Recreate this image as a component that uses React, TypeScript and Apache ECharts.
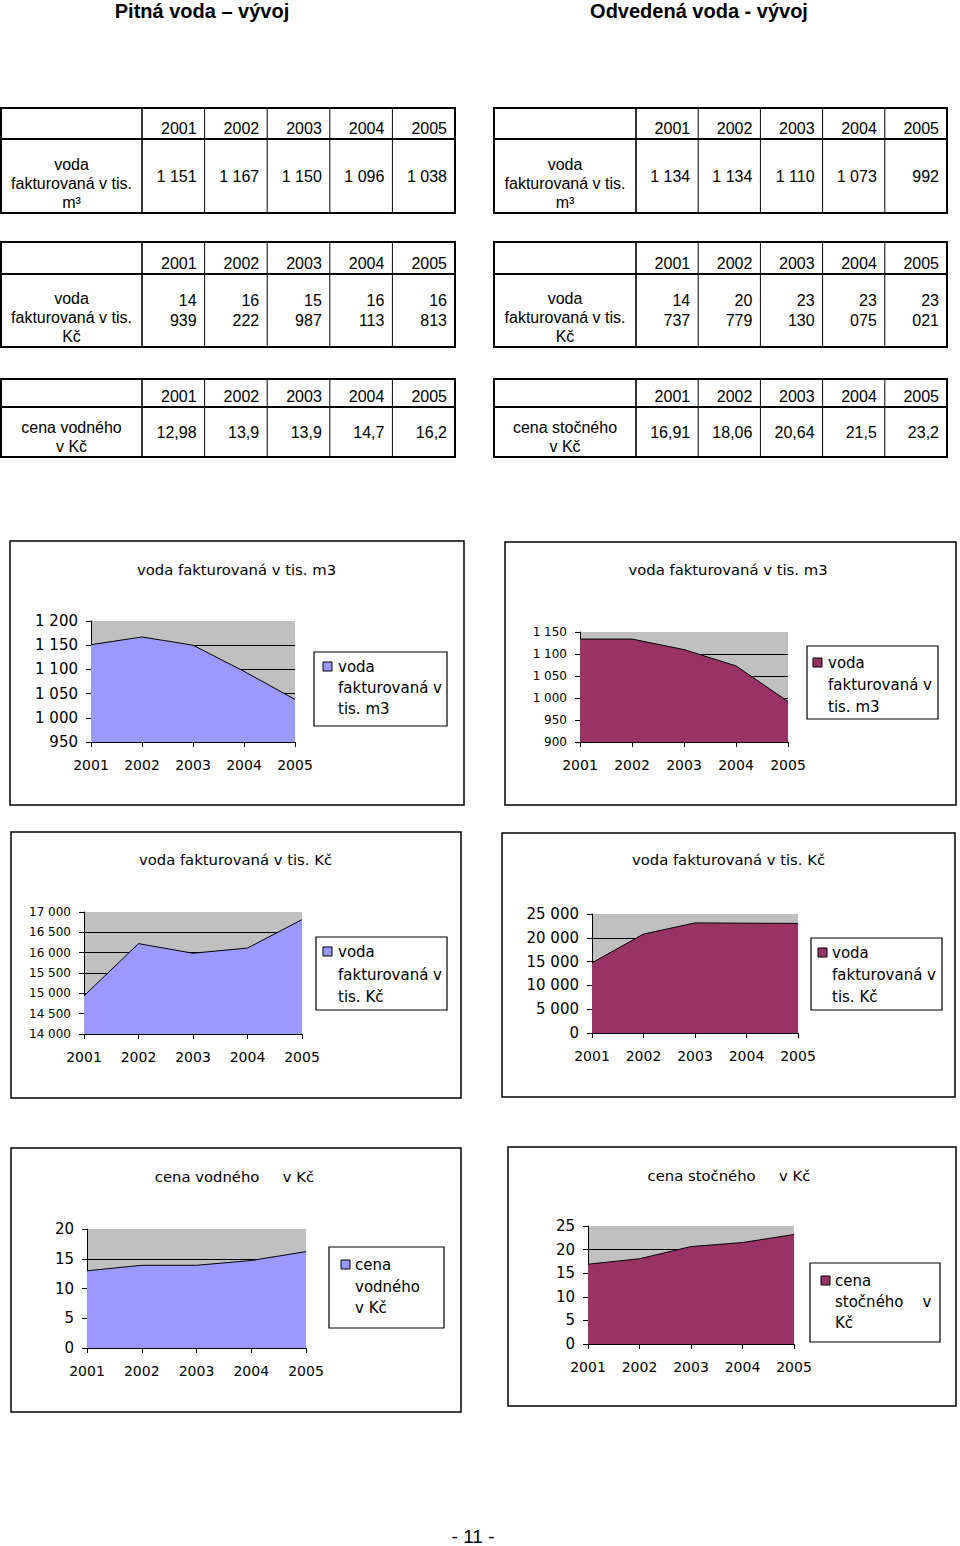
import React, { useEffect, useRef } from "react";
import * as echarts from "echarts";

// ---------- DATA ----------
const years = ["2001", "2002", "2003", "2004", "2005"];
const pitnaM3 = [1151, 1167, 1150, 1096, 1038];
const odvedenaM3 = [1134, 1134, 1110, 1073, 992];
const pitnaKc = [14939, 16222, 15987, 16113, 16813];
const odvedenaKc = [14737, 20779, 23130, 23075, 23021];
const cenaVodneho = [12.98, 13.9, 13.9, 14.7, 16.2];
const cenaStocneho = [16.91, 18.06, 20.64, 21.5, 23.2];

const pageTitles = ["Pitná voda – vývoj", "Odvedená voda - vývoj"];
const pageNumber = "- 11 -";
const tableLabels = [
  "voda\nfakturovaná v tis.\nm³",
  "voda\nfakturovaná v tis.\nKč",
  "cena vodného\nv Kč",
  "cena stočného\nv Kč",
];
const chartTitles = [
  "voda fakturovaná v tis. m3",
  "voda fakturovaná v tis. m3",
  "voda fakturovaná v tis. Kč",
  "voda fakturovaná v tis. Kč",
  "cena vodného     v Kč",
  "cena stočného     v Kč",
];
const legendTexts = [
  ["voda", "fakturovaná v", "tis. m3"],
  ["voda", "fakturovaná v", "tis. m3"],
  ["voda", "fakturovaná v", "tis. Kč"],
  ["voda", "fakturovaná v", "tis. Kč"],
  ["cena", "vodného", "v Kč"],
  ["cena", "stočného    v", "Kč"],
];
const yMins = [950, 900, 14000, 0, 0, 0];
const yMaxs = [1200, 1150, 17000, 25000, 20, 25];
const yIntervals = [50, 50, 500, 5000, 5, 5];

// ---------- STYLE / LAYOUT ----------
const BLUE = "#9999ff";
const MAROON = "#993366";
const PLOT_BG = "#c0c0c0";
const CHART_FONT = "DejaVu Sans";
const DOC_FONT = "Liberation Sans, Arial, sans-serif";

const fmtThousands = (v: number) =>
  String(v).replace(/\B(?=(\d{3})+(?!\d))/g, " ");
const fmtDecimal = (v: number) => String(v).replace(".", ",");

const chartData = [pitnaM3, odvedenaM3, pitnaKc, odvedenaKc, cenaVodneho, cenaStocneho];
const chartColors = [BLUE, MAROON, BLUE, MAROON, BLUE, MAROON];

const chartLayouts = [
  { box: [10, 541, 454, 264], grid: [91, 621, 204, 121], title: [236.5, 570], ySize: 15,
    legend: { box: [314, 652, 133, 74], icon: [323, 662], textX: 338, lines: [667, 688, 709] } },
  { box: [505, 542, 451, 263], grid: [580, 632, 208, 110], title: [728, 570], ySize: 12,
    legend: { box: [807, 646, 131, 73], icon: [813, 658], textX: 828, lines: [663, 685, 707] } },
  { box: [11, 832, 450, 266], grid: [84, 912, 218, 122], title: [235.5, 860], ySize: 12,
    legend: { box: [316, 937, 131, 73], icon: [323, 947], textX: 338, lines: [952, 975, 997] } },
  { box: [502, 833, 453, 264], grid: [592, 914, 206, 119], title: [728.5, 860], ySize: 15,
    legend: { box: [811, 938, 131, 72], icon: [818, 948], textX: 832, lines: [953, 975, 997] } },
  { box: [11, 1148, 450, 264], grid: [87, 1229, 219, 119], title: [234.5, 1177], ySize: 15,
    legend: { box: [329, 1247, 115, 81], icon: [341, 1260], textX: 355, lines: [1265, 1287, 1308] } },
  { box: [508, 1147, 448, 259], grid: [588, 1226, 206, 118], title: [729, 1176], ySize: 15,
    legend: { box: [810, 1263, 130, 79], icon: [821, 1276], textX: 835, lines: [1281, 1302, 1323] } },
];

const tableDefs = [
  { x0: 1, y0: 108, labelW: 141, colW: 62.6, headH: 31, h: 105, values: pitnaM3.map(fmtThousands), label: tableLabels[0] },
  { x0: 494, y0: 108, labelW: 142, colW: 62.2, headH: 31, h: 105, values: odvedenaM3.map(fmtThousands), label: tableLabels[0] },
  { x0: 1, y0: 242, labelW: 141, colW: 62.6, headH: 32, h: 105, values: pitnaKc.map((v) => fmtThousands(v).replace(" ", "\n")), label: tableLabels[1] },
  { x0: 494, y0: 242, labelW: 142, colW: 62.2, headH: 32, h: 105, values: odvedenaKc.map((v) => fmtThousands(v).replace(" ", "\n")), label: tableLabels[1] },
  { x0: 1, y0: 379, labelW: 141, colW: 62.6, headH: 28, h: 78, values: cenaVodneho.map(fmtDecimal), label: tableLabels[2] },
  { x0: 494, y0: 379, labelW: 142, colW: 62.2, headH: 28, h: 78, values: cenaStocneho.map(fmtDecimal), label: tableLabels[3] },
];

function buildTable(t: any): any[] {
  const els: any[] = [];
  const W = t.labelW + years.length * t.colW;
  const tf = { fill: "#000", fontSize: 16, fontFamily: DOC_FONT };
  els.push({ type: "rect", shape: { x: t.x0, y: t.y0, width: W, height: t.h },
    style: { fill: "none", stroke: "#000", lineWidth: 2 } });
  els.push({ type: "line", shape: { x1: t.x0, y1: t.y0 + t.headH, x2: t.x0 + W, y2: t.y0 + t.headH },
    style: { stroke: "#000", lineWidth: 2 } });
  for (let i = 0; i < years.length; i++) {
    const lx = t.x0 + t.labelW + i * t.colW;
    els.push({ type: "line", shape: { x1: lx, y1: t.y0, x2: lx, y2: t.y0 + t.h },
      style: { stroke: "#000", lineWidth: i === 0 ? 1.6 : 1 } });
    const rx = lx + t.colW - 8;
    els.push({ type: "text", x: rx, y: t.y0 + t.headH - 11,
      style: { ...tf, text: years[i], align: "right", verticalAlign: "middle" } });
    els.push({ type: "text", x: rx, y: t.y0 + t.headH + (t.h - t.headH) / 2,
      style: { ...tf, text: t.values[i], align: "right", verticalAlign: "middle", lineHeight: 20 } });
  }
  els.push({ type: "text", x: t.x0 + t.labelW / 2, y: t.y0 + t.h - 1.5,
    style: { ...tf, text: t.label, align: "center", verticalAlign: "bottom", lineHeight: 19 } });
  return els;
}

function buildChartFrame(i: number): any[] {
  const L = chartLayouts[i];
  const els: any[] = [];
  const [bx, by, bw, bh] = L.box;
  els.push({ type: "rect", shape: { x: bx, y: by, width: bw, height: bh },
    style: { fill: "none", stroke: "#000", lineWidth: 1.5 } });
  const lg = L.legend;
  els.push({ type: "rect", shape: { x: lg.box[0], y: lg.box[1], width: lg.box[2], height: lg.box[3] },
    style: { fill: "none", stroke: "#000", lineWidth: 1.2 } });
  els.push({ type: "rect", shape: { x: lg.icon[0], y: lg.icon[1], width: 9, height: 9 },
    style: { fill: chartColors[i], stroke: "#000", lineWidth: 1 } });
  legendTexts[i].forEach((ln, k) => {
    els.push({ type: "text", x: lg.textX, y: lg.lines[k],
      style: { text: ln, fill: "#000", fontSize: 15, fontFamily: CHART_FONT, align: "left", verticalAlign: "middle" } });
  });
  return els;
}

export default function App() {
  const ref = useRef<HTMLDivElement>(null);
  useEffect(() => {
    if (!ref.current) return;
    const chart = echarts.init(ref.current, undefined, { renderer: "svg" });

    const grids = chartLayouts.map((L) => ({
      left: L.grid[0], top: L.grid[1], width: L.grid[2], height: L.grid[3],
      show: true, backgroundColor: PLOT_BG, borderWidth: 0, containLabel: false,
    }));
    const xAxes = chartLayouts.map((L, i) => ({
      gridIndex: i, type: "category", data: years, boundaryGap: false,
      axisLine: { show: true, lineStyle: { color: "#000", width: 1 } },
      axisTick: { show: true, length: 5, lineStyle: { color: "#000" } },
      axisLabel: { color: "#000", fontSize: 14, fontFamily: CHART_FONT, margin: 16 },
      splitLine: { show: false },
    }));
    const yAxes = chartLayouts.map((L, i) => ({
      gridIndex: i, type: "value", min: yMins[i], max: yMaxs[i], interval: yIntervals[i],
      axisLine: { show: true, lineStyle: { color: "#000", width: 1 } },
      axisTick: { show: true, length: 5, lineStyle: { color: "#000" } },
      axisLabel: { color: "#000", fontSize: L.ySize, fontFamily: CHART_FONT, margin: 13,
        formatter: (v: number) => fmtThousands(v) },
      splitLine: { show: true, showMaxLine: false, lineStyle: { color: "#000", width: 1 } },
    }));
    const series = chartData.map((d, i) => ({
      type: "line", xAxisIndex: i, yAxisIndex: i, data: d, symbol: "none", silent: true,
      name: legendTexts[i].join(" "),
      lineStyle: { color: "#000", width: 1 },
      itemStyle: { color: chartColors[i] },
      areaStyle: { color: chartColors[i], opacity: 1, origin: "start" },
    }));

    const titles: any[] = [
      { text: pageTitles[0], left: 202, top: 1, textAlign: "center", padding: 0,
        textStyle: { fontSize: 20, fontWeight: "bold", fontFamily: DOC_FONT, color: "#000" } },
      { text: pageTitles[1], left: 699, top: 1, textAlign: "center", padding: 0,
        textStyle: { fontSize: 20, fontWeight: "bold", fontFamily: DOC_FONT, color: "#000" } },
      { text: pageNumber, left: 473, top: 1527, textAlign: "center", padding: 0,
        textStyle: { fontSize: 19, fontWeight: "normal", fontFamily: DOC_FONT, color: "#000" } },
      ...chartLayouts.map((L, i) => ({
        text: chartTitles[i], left: L.title[0], top: L.title[1] - 8, textAlign: "center", padding: 0,
        textStyle: { fontSize: 14.8, fontWeight: "normal", fontFamily: CHART_FONT, color: "#000" },
      })),
    ];

    const graphics: any[] = [];
    tableDefs.forEach((t) => graphics.push(...buildTable(t)));
    chartLayouts.forEach((_, i) => graphics.push(...buildChartFrame(i)));

    chart.setOption({
      animation: false,
      backgroundColor: "#fff",
      title: titles,
      grid: grids,
      xAxis: xAxes,
      yAxis: yAxes,
      series,
      graphic: { elements: graphics },
    });
    return () => chart.dispose();
  }, []);
  return (
    <div
      ref={ref}
      style={{ position: "absolute", left: 0, top: 0, width: 960, height: 1546 }}
    />
  );
}
